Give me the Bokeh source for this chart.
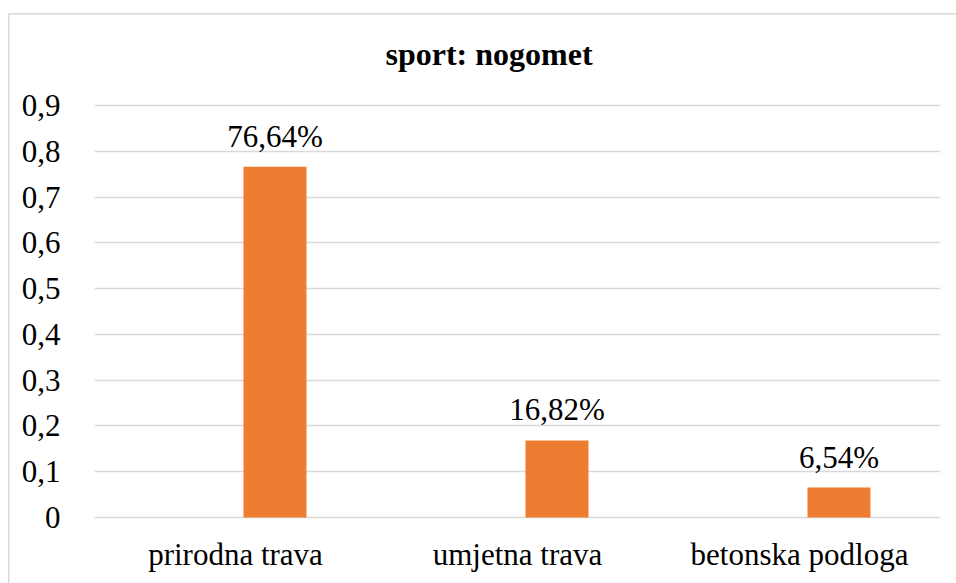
from bokeh.plotting import figure
from bokeh.models import FactorRange, Range1d, FixedTicker, LabelSet, ColumnDataSource
from bokeh.transform import dodge
from bokeh.embed import file_html
from bokeh.resources import INLINE

categories = ["prirodna trava", "umjetna trava", "betonska podloga"]
values = [0.7664, 0.1682, 0.0654]
value_labels = ["76,64%", "16,82%", "6,54%"]
y_ticks = [0, 0.1, 0.2, 0.3, 0.4, 0.5, 0.6, 0.7, 0.8, 0.9]
y_tick_labels = ["0", "0,1", "0,2", "0,3", "0,4", "0,5", "0,6", "0,7", "0,8", "0,9"]
title_text = "sport: nogomet"

FONT = "Liberation Serif"
BAR = "#ED7D31"
GRID = "#d9d9d9"

src = ColumnDataSource(dict(cat=categories, val=values, lab=value_labels))

p = figure(
    width=956, height=583,
    x_range=FactorRange(factors=categories, range_padding=0),
    y_range=Range1d(-0.0044, 0.9044),
    output_backend="svg", toolbar_location=None,
    min_border_left=94, min_border_right=16, min_border_top=103, min_border_bottom=64,
    title=title_text,
)
p.outline_line_color = None
p.background_fill_color = None
p.border_fill_color = None
p.styles = {
    "background": "linear-gradient(#d9d9d9, #d9d9d9) 8px 13px / 1.5px 100% no-repeat, "
                  "linear-gradient(#d9d9d9, #d9d9d9) 8px 13px / 100% 1.5px no-repeat, white"
}

p.title.text_font = FONT
p.title.text_font_size = "32px"
p.title.text_font_style = "bold"
p.title.text_color = "black"
p.title.align = "left"
p.title.offset = 291
p.title.standoff = 63

p.vbar(x=dodge("cat", 0.14, range=p.x_range), top="val", bottom=0, width=0.2234,
       source=src, fill_color=BAR, line_color=None)

labels = LabelSet(x=dodge("cat", 0.14, range=p.x_range), y="val", text="lab", source=src,
                  text_align="center", text_baseline="alphabetic", y_offset=20,
                  text_font=FONT, text_font_size="31px", text_color="black")
p.add_layout(labels)

p.xgrid.grid_line_color = None
p.ygrid.grid_line_color = GRID
p.ygrid.grid_line_width = 1.5
p.yaxis.ticker = FixedTicker(ticks=y_ticks)
p.yaxis.major_label_overrides = {t: l for t, l in zip(y_ticks, y_tick_labels)}
p.yaxis.axis_line_color = None
p.yaxis.major_tick_line_color = None
p.yaxis.minor_tick_line_color = None
p.yaxis.major_label_standoff = 28
p.yaxis.major_label_text_font = FONT
p.yaxis.major_label_text_font_size = "31px"
p.yaxis.major_label_text_color = "black"

p.xaxis.axis_line_color = None
p.xaxis.major_tick_line_color = None
p.xaxis.minor_tick_line_color = None
p.xaxis.major_label_standoff = 11
p.xaxis.major_label_text_font = FONT
p.xaxis.major_label_text_font_size = "31px"
p.xaxis.major_label_text_color = "black"

open("out.html", "w").write(file_html(p, INLINE))
